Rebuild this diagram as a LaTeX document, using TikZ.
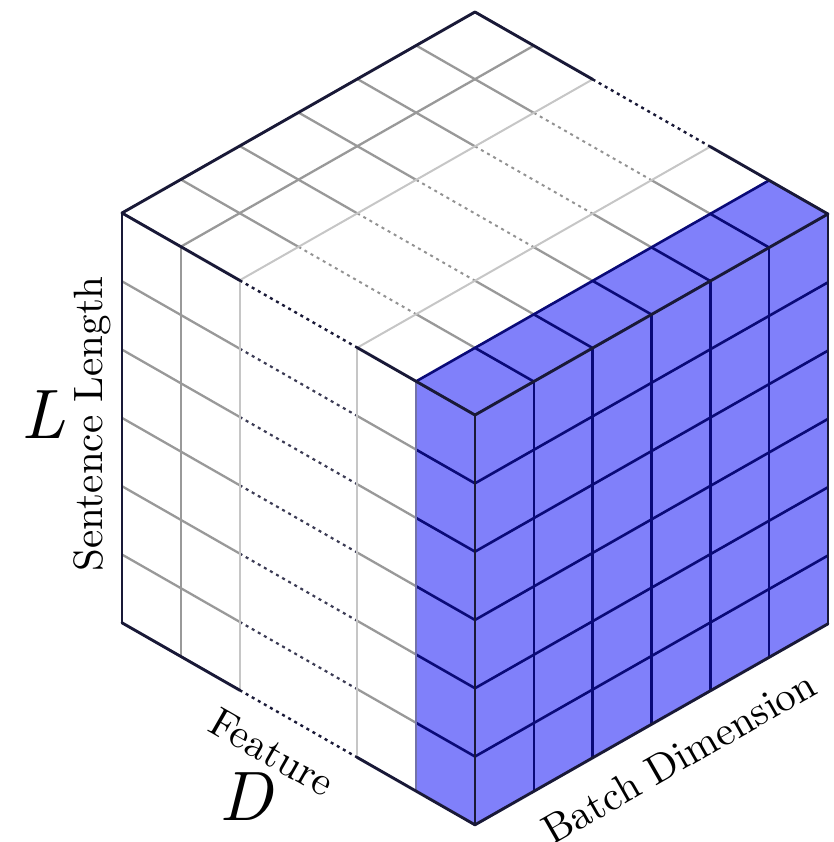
\documentclass[tikz,border=0pt]{standalone}
\usepackage{fontspec}
\newfontfamily\lmten{lmroman10-regular}[Extension=.otf, ItalicFont=lmroman10-italic]
\definecolor{edge}{RGB}{25,25,55}
\definecolor{navy}{RGB}{10,10,120}
\definecolor{bfill}{RGB}{128,128,250}
\definecolor{seam}{RGB}{115,115,170}
\begin{document}
\begin{tikzpicture}[
  edgeline/.style={draw=edge, line width=2.9pt, line cap=round},
  edgedash/.style={draw=edge, line width=2.4pt, dash pattern=on 3pt off 4pt},
  gridA/.style={draw=gray!80, line width=2.3pt},
  gridB/.style={draw=gray!45, line width=2pt},
  dotline/.style={draw=edge!85, line width=2.2pt, dash pattern=on 3pt off 4pt},
  dotgray/.style={draw=gray!85, line width=2pt, dash pattern=on 3pt off 4pt},
  navyline/.style={draw=navy, line width=2.6pt},
  lbl/.style={font=\lmten\fontsize{41}{48}\selectfont, inner sep=0pt},
  big/.style={font=\lmten\fontsize{70}{80}\selectfont\itshape, inner sep=0pt}
]
\useasboundingbox (0pt,0pt) rectangle (833pt,-842pt);
\begin{scope}[shift={(122pt,-213pt)}, x={(58.83pt,-33.67pt)}, y={(58.83pt,33.5pt)}, z={(0pt,-68.3pt)}]
  % blue fills
  \fill[bfill] (5,0,0)--(6,0,0)--(6,6,0)--(5,6,0)--cycle;
  \fill[bfill] (5,0,0)--(6,0,0)--(6,0,6)--(5,0,6)--cycle;
  \fill[bfill] (6,0,0)--(6,6,0)--(6,6,6)--(6,0,6)--cycle;
  % top face: lines along the feature direction
  \foreach \b in {1,...,5} {
    \draw[gridA] (0,\b,0)--(2,\b,0);
    \draw[dotgray] (2,\b,0)--(4,\b,0);
    \draw[gridA] (4,\b,0)--(5,\b,0);
    \draw[navyline] (5,\b,0)--(6,\b,0);
  }
  % top face: lines along the batch direction
  \draw[gridA] (1,0,0)--(1,6,0);
  \draw[gridB] (2,0,0)--(2,6,0);
  \draw[gridB] (4,0,0)--(4,6,0);
  \draw[navyline] (5,0,0)--(5,6,0);
  % left face: horizontal rows
  \foreach \v in {1,...,5} {
    \draw[gridA] (0,0,\v)--(2,0,\v);
    \draw[dotline] (2,0,\v)--(4,0,\v);
    \draw[gridA] (4,0,\v)--(5,0,\v);
    \draw[navyline] (5,0,\v)--(6,0,\v);
  }
  % left face: vertical columns
  \draw[gridA] (1,0,0)--(1,0,6);
  \draw[gridB] (2,0,0)--(2,0,6);
  \draw[gridB] (4,0,0)--(4,0,6);
  \draw[draw=seam, line width=2.2pt] (5,0,0)--(5,0,6);
  % right face grid
  \foreach \b in {1,...,5} {
    \draw[navyline] (6,\b,0)--(6,\b,6);
  }
  \foreach \v in {1,...,5} {
    \draw[navyline] (6,0,\v)--(6,6,\v);
  }
  % outer edges
  \draw[edgeline] (0,0,0)--(0,6,0);
  \draw[edgeline] (0,6,0)--(2,6,0);
  \draw[edgedash] (2,6,0)--(4,6,0);
  \draw[edgeline] (4,6,0)--(6,6,0);
  \draw[edgeline] (0,0,0)--(2,0,0);
  \draw[edgedash] (2,0,0)--(4,0,0);
  \draw[edgeline] (4,0,0)--(6,0,0);
  \draw[edgeline] (0,0,0)--(0,0,6);
  \draw[edgeline] (0,0,6)--(2,0,6);
  \draw[edgedash] (2,0,6)--(4,0,6);
  \draw[edgeline] (4,0,6)--(6,0,6);
  \draw[edgeline] (6,0,0)--(6,6,0);
  \draw[edgeline] (6,0,6)--(6,6,6);
  \draw[edgeline] (6,0,0)--(6,0,6);
  \draw[edgeline] (6,6,0)--(6,6,6);
\end{scope}
% labels
\node[lbl, rotate=90] (sl) at (92pt,-424pt) {Sentence Length};
\node[big] (lL) at (43pt,-415pt) {L};
\node[lbl, rotate=-29.8] (feat) at (272pt,-752pt) {Feature};
\node[big] (dD) at (246pt,-797pt) {D};
\node[lbl, rotate=29.8] (batch) at (679pt,-757pt) {Batch Dimension};
\end{tikzpicture}
\end{document}
